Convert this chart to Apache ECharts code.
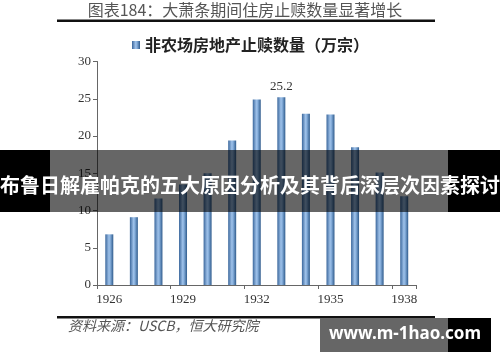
<!DOCTYPE html>
<html>
<head>
<meta charset="utf-8">
<script src="https://cdn.jsdelivr.net/npm/echarts@6/dist/echarts.min.js"></script>
<style>
html,body{margin:0;padding:0;background:#fff;}
#chart{width:500px;height:362px;}
</style>
</head>
<body>
<div id="chart"></div>
<script>
var years = ['1926','1927','1928','1929','1930','1931','1932','1933','1934','1935','1936','1937','1938'];
var foreclosures = [6.8, 9.1, 11.6, 13.5, 15.0, 19.4, 24.9, 25.2, 23.0, 22.9, 18.5, 15.1, 11.9];
var yTicks = [0, 5, 10, 15, 20, 25, 30];
var seriesName = '非农场房地产止赎数量（万宗）';
var titleText = '图表184：大萧条期间住房止赎数量显著增长';
var sourceText = '资料来源：USCB，恒大研究院';
var bannerText = '布鲁日解雇帕克的五大原因分析及其背后深层次因素探讨';
var watermarkText = 'www.m-1hao.com';
var labeledYear = '1933';

var barGradient = new echarts.graphic.LinearGradient(0, 0, 1, 0, [
  {offset: 0, color: '#3b679c'},
  {offset: 0.45, color: '#9dc0e8'},
  {offset: 0.6, color: '#8ab2df'},
  {offset: 1, color: '#2f5b8c'}
]);

var chart = echarts.init(document.getElementById('chart'), null, {renderer: 'canvas'});
var serif = '"Liberation Serif", "DejaVu Serif", serif';
var cjk = '"Noto Sans CJK SC", sans-serif';

chart.setOption({
  animation: false,
  backgroundColor: '#ffffff',
  graphic: [
    {type: 'text', z: 100, x: 245, y: 10,
      style: {text: titleText, font: '16px ' + cjk, fill: '#555555', textAlign: 'center', textVerticalAlign: 'middle'}},
    {type: 'rect', z: 100, shape: {x: 57, y: 19.5, width: 378, height: 2.5}, style: {fill: '#111111'}},
    {type: 'rect', z: 100, shape: {x: 57, y: 316, width: 378, height: 2.5}, style: {fill: '#111111'}},
    {type: 'text', z: 100, x: 68, y: 326,
      style: {text: sourceText, font: 'italic 14px ' + cjk, fill: '#555555', textVerticalAlign: 'middle'}},
    {type: 'rect', z: 200, shape: {x: 0, y: 150, width: 50, height: 62}, style: {fill: '#000000'}},
    {type: 'rect', z: 200, shape: {x: 448, y: 150, width: 52, height: 62}, style: {fill: '#000000'}},
    {type: 'rect', z: 200, shape: {x: 50, y: 150, width: 398, height: 62}, style: {fill: 'rgba(0,0,0,0.6)'}},
    {type: 'text', z: 210, x: 250, y: 185,
      style: {text: bannerText, font: 'bold 20px ' + cjk, fill: '#ffffff', textAlign: 'center', textVerticalAlign: 'middle'}},
    {type: 'rect', z: 200, shape: {x: 320, y: 318, width: 128, height: 34}, style: {fill: '#666666'}},
    {type: 'rect', z: 200, shape: {x: 448, y: 318, width: 43, height: 34}, style: {fill: '#000000'}},
    {type: 'text', z: 210, x: 405, y: 334,
      style: {text: watermarkText, font: 'bold 17px "Noto Sans", "DejaVu Sans", sans-serif', fill: '#ffffff', textAlign: 'center', textVerticalAlign: 'middle'}}
  ],
  legend: {
    left: 127, top: 32,
    icon: 'rect', itemWidth: 8, itemHeight: 8, itemGap: 5,
    textStyle: {fontFamily: cjk, fontSize: 16, fontWeight: 'bold', color: '#222222'},
    data: [seriesName]
  },
  grid: {left: 97, right: 83.5, top: 61.5, bottom: 77, containLabel: false},
  xAxis: {
    type: 'category',
    data: years,
    axisLine: {lineStyle: {color: '#666666', width: 1}},
    axisTick: {show: true, interval: 2, length: 4, lineStyle: {color: '#666666'}},
    axisLabel: {interval: 2, fontFamily: serif, fontSize: 13, color: '#333333', margin: 8}
  },
  yAxis: {
    type: 'value',
    min: yTicks[0], max: yTicks[yTicks.length - 1], interval: 5,
    axisLine: {show: true, lineStyle: {color: '#666666', width: 1}},
    axisTick: {show: true, length: 4, lineStyle: {color: '#666666'}},
    splitLine: {show: false},
    axisLabel: {fontFamily: serif, fontSize: 13, color: '#333333', margin: 6}
  },
  series: [{
    name: seriesName,
    type: 'bar',
    barWidth: 8,
    itemStyle: {color: barGradient},
    data: foreclosures.map(function (v, i) {
      return {
        value: v,
        label: {
          show: years[i] === labeledYear,
          position: 'top', distance: 4,
          fontFamily: serif, fontSize: 13, color: '#333333',
          formatter: function (p) { return p.value.toFixed(1); }
        }
      };
    })
  }]
});
</script>
</body>
</html>
